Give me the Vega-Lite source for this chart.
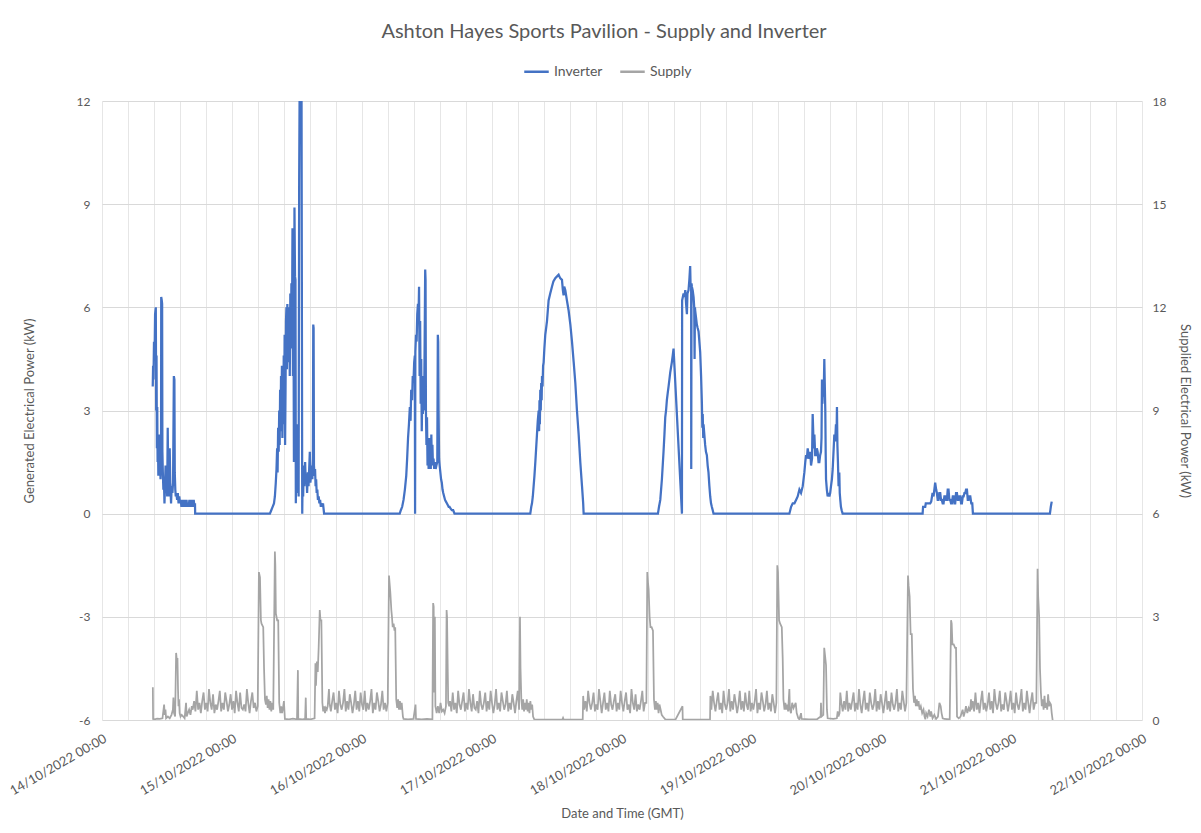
{
"$schema": "https://vega.github.io/schema/vega-lite/v6.json",
"width": 1040,
"height": 619,
"autosize": {"type": "none"},
"padding": {"left": 102, "top": 101, "right": 59, "bottom": 113},
"background": "white",
"title": {"text": "Ashton Hayes Sports Pavilion - Supply and Inverter", "font": "Lato", "fontSize": 20, "fontWeight": "normal", "color": "#595959", "anchor": "middle", "offset": 16, "dx": -18},
"config": {
  "view": {"stroke": null},
  "font": "Lato",
  "axis": {"labelFont": "Lato", "titleFont": "Lato", "labelColor": "#595959", "titleColor": "#595959", "labelFontSize": 12, "titleFontSize": 13, "titleFontWeight": "normal", "domain": false, "ticks": false}
},
"datasets": {
"inv": [
{"t":"2022-10-14T09:22:00Z","v":3.7},{"t":"2022-10-14T09:26:00Z","v":4.3},{"t":"2022-10-14T09:30:00Z","v":3.9},{"t":"2022-10-14T09:36:00Z","v":5.0},{"t":"2022-10-14T09:42:00Z","v":4.5},{"t":"2022-10-14T09:48:00Z","v":5.8},{"t":"2022-10-14T09:56:00Z","v":6.0},{"t":"2022-10-14T10:00:00Z","v":3.0},{"t":"2022-10-14T10:04:00Z","v":4.6},{"t":"2022-10-14T10:08:00Z","v":1.9},{"t":"2022-10-14T10:12:00Z","v":3.1},{"t":"2022-10-14T10:16:00Z","v":1.5},{"t":"2022-10-14T10:20:00Z","v":2.2},{"t":"2022-10-14T10:24:00Z","v":1.1},{"t":"2022-10-14T10:28:00Z","v":1.9},{"t":"2022-10-14T10:32:00Z","v":1.3},{"t":"2022-10-14T10:36:00Z","v":2.3},{"t":"2022-10-14T10:40:00Z","v":1.2},{"t":"2022-10-14T10:44:00Z","v":1.6},{"t":"2022-10-14T10:48:00Z","v":1.0},{"t":"2022-10-14T10:54:00Z","v":1.4},{"t":"2022-10-14T10:56:00Z","v":6.3},{"t":"2022-10-14T11:02:00Z","v":6.2},{"t":"2022-10-14T11:06:00Z","v":6.1},{"t":"2022-10-14T11:09:00Z","v":1.8},{"t":"2022-10-14T11:14:00Z","v":1.2},{"t":"2022-10-14T11:20:00Z","v":0.7},{"t":"2022-10-14T11:26:00Z","v":1.0},{"t":"2022-10-14T11:32:00Z","v":0.3},{"t":"2022-10-14T11:38:00Z","v":0.8},{"t":"2022-10-14T11:44:00Z","v":1.4},{"t":"2022-10-14T11:50:00Z","v":0.6},{"t":"2022-10-14T11:56:00Z","v":1.2},{"t":"2022-10-14T12:02:00Z","v":0.5},{"t":"2022-10-14T12:08:00Z","v":2.5},{"t":"2022-10-14T12:14:00Z","v":1.0},{"t":"2022-10-14T12:19:00Z","v":0.5},{"t":"2022-10-14T12:24:00Z","v":1.2},{"t":"2022-10-14T12:30:00Z","v":1.9},{"t":"2022-10-14T12:36:00Z","v":0.9},{"t":"2022-10-14T12:42:00Z","v":0.5},{"t":"2022-10-14T12:45:00Z","v":0.3},{"t":"2022-10-14T12:52:00Z","v":0.8},{"t":"2022-10-14T13:00:00Z","v":0.6},{"t":"2022-10-14T13:07:00Z","v":0.9},{"t":"2022-10-14T13:16:00Z","v":4.0},{"t":"2022-10-14T13:22:00Z","v":3.9},{"t":"2022-10-14T13:26:00Z","v":1.2},{"t":"2022-10-14T13:32:00Z","v":0.7},{"t":"2022-10-14T13:37:00Z","v":0.5},{"t":"2022-10-14T13:44:00Z","v":0.6},{"t":"2022-10-14T13:52:00Z","v":0.4},{"t":"2022-10-14T14:00:00Z","v":0.6},{"t":"2022-10-14T14:08:00Z","v":0.3},{"t":"2022-10-14T14:16:00Z","v":0.5},{"t":"2022-10-14T14:24:00Z","v":0.3},{"t":"2022-10-14T14:32:00Z","v":0.4},{"t":"2022-10-14T14:40:00Z","v":0.2},{"t":"2022-10-14T14:48:00Z","v":0.4},{"t":"2022-10-14T14:56:00Z","v":0.3},{"t":"2022-10-14T15:04:00Z","v":0.2},{"t":"2022-10-14T15:12:00Z","v":0.4},{"t":"2022-10-14T15:20:00Z","v":0.3},{"t":"2022-10-14T15:28:00Z","v":0.2},{"t":"2022-10-14T15:36:00Z","v":0.4},{"t":"2022-10-14T15:44:00Z","v":0.2},{"t":"2022-10-14T15:52:00Z","v":0.3},{"t":"2022-10-14T16:00:00Z","v":0.2},{"t":"2022-10-14T16:08:00Z","v":0.4},{"t":"2022-10-14T16:16:00Z","v":0.3},{"t":"2022-10-14T16:24:00Z","v":0.2},{"t":"2022-10-14T16:32:00Z","v":0.4},{"t":"2022-10-14T16:40:00Z","v":0.2},{"t":"2022-10-14T16:48:00Z","v":0.3},{"t":"2022-10-14T16:56:00Z","v":0.4},{"t":"2022-10-14T17:04:00Z","v":0.2},{"t":"2022-10-14T17:10:00Z","v":0.3},{"t":"2022-10-14T17:12:00Z","v":0},
{"t":"2022-10-15T07:00:00Z","v":0},{"t":"2022-10-15T07:15:00Z","v":0.1},{"t":"2022-10-15T07:30:00Z","v":0.2},{"t":"2022-10-15T07:45:00Z","v":0.3},{"t":"2022-10-15T07:55:00Z","v":0.5},{"t":"2022-10-15T08:05:00Z","v":0.9},{"t":"2022-10-15T08:13:00Z","v":1.3},{"t":"2022-10-15T08:20:00Z","v":1.9},{"t":"2022-10-15T08:25:00Z","v":1.2},{"t":"2022-10-15T08:31:00Z","v":2.5},{"t":"2022-10-15T08:37:00Z","v":1.8},{"t":"2022-10-15T08:43:00Z","v":3.0},{"t":"2022-10-15T08:48:00Z","v":2.0},{"t":"2022-10-15T08:53:00Z","v":3.6},{"t":"2022-10-15T08:58:00Z","v":2.4},{"t":"2022-10-15T09:03:00Z","v":4.0},{"t":"2022-10-15T09:08:00Z","v":2.8},{"t":"2022-10-15T09:13:00Z","v":4.3},{"t":"2022-10-15T09:18:00Z","v":2.2},{"t":"2022-10-15T09:23:00Z","v":3.8},{"t":"2022-10-15T09:28:00Z","v":2.6},{"t":"2022-10-15T09:33:00Z","v":4.6},{"t":"2022-10-15T09:38:00Z","v":3.1},{"t":"2022-10-15T09:43:00Z","v":5.2},{"t":"2022-10-15T09:48:00Z","v":2.0},{"t":"2022-10-15T09:53:00Z","v":3.6},{"t":"2022-10-15T09:58:00Z","v":5.6},{"t":"2022-10-15T10:03:00Z","v":6.0},{"t":"2022-10-15T10:08:00Z","v":4.2},{"t":"2022-10-15T10:13:00Z","v":6.1},{"t":"2022-10-15T10:18:00Z","v":4.6},{"t":"2022-10-15T10:22:00Z","v":6.0},{"t":"2022-10-15T10:28:00Z","v":4.4},{"t":"2022-10-15T10:34:00Z","v":5.8},{"t":"2022-10-15T10:40:00Z","v":4.0},{"t":"2022-10-15T10:46:00Z","v":6.4},{"t":"2022-10-15T10:52:00Z","v":4.8},{"t":"2022-10-15T10:58:00Z","v":6.7},{"t":"2022-10-15T11:04:00Z","v":5.0},{"t":"2022-10-15T11:10:00Z","v":8.3},{"t":"2022-10-15T11:15:00Z","v":4.0},{"t":"2022-10-15T11:20:00Z","v":7.0},{"t":"2022-10-15T11:26:00Z","v":1.5},{"t":"2022-10-15T11:32:00Z","v":8.9},{"t":"2022-10-15T11:38:00Z","v":6.9},{"t":"2022-10-15T11:43:00Z","v":6.8},{"t":"2022-10-15T11:47:00Z","v":0.3},{"t":"2022-10-15T11:52:00Z","v":2.4},{"t":"2022-10-15T11:57:00Z","v":0.6},{"t":"2022-10-15T12:02:00Z","v":2.6},{"t":"2022-10-15T12:07:00Z","v":0.8},{"t":"2022-10-15T12:12:00Z","v":1.8},{"t":"2022-10-15T12:18:00Z","v":0.5},{"t":"2022-10-15T12:24:00Z","v":9.7},{"t":"2022-10-15T12:30:00Z","v":12.8},{"t":"2022-10-15T12:40:00Z","v":13},{"t":"2022-10-15T12:50:00Z","v":12.6},{"t":"2022-10-15T12:58:00Z","v":0},{"t":"2022-10-15T13:03:00Z","v":1.2},{"t":"2022-10-15T13:08:00Z","v":0.5},{"t":"2022-10-15T13:15:00Z","v":1.4},{"t":"2022-10-15T13:22:00Z","v":0.8},{"t":"2022-10-15T13:30:00Z","v":1.5},{"t":"2022-10-15T13:37:00Z","v":0.9},{"t":"2022-10-15T13:45:00Z","v":1.1},{"t":"2022-10-15T13:52:00Z","v":0.6},{"t":"2022-10-15T14:00:00Z","v":1.2},{"t":"2022-10-15T14:08:00Z","v":0.8},{"t":"2022-10-15T14:15:00Z","v":1.3},{"t":"2022-10-15T14:22:00Z","v":1.8},{"t":"2022-10-15T14:28:00Z","v":0.9},{"t":"2022-10-15T14:35:00Z","v":1.1},{"t":"2022-10-15T14:42:00Z","v":1.4},{"t":"2022-10-15T14:50:00Z","v":1.0},{"t":"2022-10-15T14:56:00Z","v":1.6},{"t":"2022-10-15T15:00:00Z","v":5.5},{"t":"2022-10-15T15:04:00Z","v":5.4},{"t":"2022-10-15T15:08:00Z","v":1.4},{"t":"2022-10-15T15:14:00Z","v":1.1},{"t":"2022-10-15T15:20:00Z","v":1.3},{"t":"2022-10-15T15:26:00Z","v":0.8},{"t":"2022-10-15T15:32:00Z","v":1.0},{"t":"2022-10-15T15:38:00Z","v":0.6},{"t":"2022-10-15T15:45:00Z","v":0.7},{"t":"2022-10-15T15:52:00Z","v":0.4},{"t":"2022-10-15T16:00:00Z","v":0.5},{"t":"2022-10-15T16:08:00Z","v":0.3},{"t":"2022-10-15T16:16:00Z","v":0.4},{"t":"2022-10-15T16:24:00Z","v":0.2},{"t":"2022-10-15T16:32:00Z","v":0.3},{"t":"2022-10-15T16:40:00Z","v":0.2},{"t":"2022-10-15T16:48:00Z","v":0.3},{"t":"2022-10-15T16:56:00Z","v":0.1},{"t":"2022-10-15T17:00:00Z","v":0},
{"t":"2022-10-16T06:58:00Z","v":0},{"t":"2022-10-16T07:10:00Z","v":0.1},{"t":"2022-10-16T07:25:00Z","v":0.2},{"t":"2022-10-16T07:40:00Z","v":0.4},{"t":"2022-10-16T07:55:00Z","v":0.7},{"t":"2022-10-16T08:10:00Z","v":1.1},{"t":"2022-10-16T08:20:00Z","v":1.6},{"t":"2022-10-16T08:30:00Z","v":2.2},{"t":"2022-10-16T08:40:00Z","v":2.6},{"t":"2022-10-16T08:50:00Z","v":3.1},{"t":"2022-10-16T08:58:00Z","v":2.7},{"t":"2022-10-16T09:05:00Z","v":3.6},{"t":"2022-10-16T09:15:00Z","v":3.3},{"t":"2022-10-16T09:22:00Z","v":4.0},{"t":"2022-10-16T09:30:00Z","v":3.8},{"t":"2022-10-16T09:38:00Z","v":4.4},{"t":"2022-10-16T09:45:00Z","v":4.6},{"t":"2022-10-16T09:48:00Z","v":0},{"t":"2022-10-16T09:51:00Z","v":4.7},{"t":"2022-10-16T09:58:00Z","v":5.2},{"t":"2022-10-16T10:05:00Z","v":5.0},{"t":"2022-10-16T10:12:00Z","v":5.8},{"t":"2022-10-16T10:20:00Z","v":6.1},{"t":"2022-10-16T10:26:00Z","v":5.7},{"t":"2022-10-16T10:32:00Z","v":6.6},{"t":"2022-10-16T10:38:00Z","v":4.0},{"t":"2022-10-16T10:44:00Z","v":5.6},{"t":"2022-10-16T10:50:00Z","v":3.2},{"t":"2022-10-16T10:56:00Z","v":4.5},{"t":"2022-10-16T11:02:00Z","v":2.4},{"t":"2022-10-16T11:08:00Z","v":3.6},{"t":"2022-10-16T11:14:00Z","v":2.9},{"t":"2022-10-16T11:20:00Z","v":4.0},{"t":"2022-10-16T11:28:00Z","v":3.0},{"t":"2022-10-16T11:34:00Z","v":5.0},{"t":"2022-10-16T11:40:00Z","v":7.1},{"t":"2022-10-16T11:44:00Z","v":6.8},{"t":"2022-10-16T11:48:00Z","v":3.0},{"t":"2022-10-16T11:54:00Z","v":2.0},{"t":"2022-10-16T12:00:00Z","v":2.8},{"t":"2022-10-16T12:06:00Z","v":1.4},{"t":"2022-10-16T12:12:00Z","v":2.0},{"t":"2022-10-16T12:18:00Z","v":1.3},{"t":"2022-10-16T12:24:00Z","v":2.2},{"t":"2022-10-16T12:30:00Z","v":1.3},{"t":"2022-10-16T12:36:00Z","v":1.8},{"t":"2022-10-16T12:42:00Z","v":1.3},{"t":"2022-10-16T12:48:00Z","v":2.3},{"t":"2022-10-16T12:54:00Z","v":1.4},{"t":"2022-10-16T13:00:00Z","v":2.0},{"t":"2022-10-16T13:06:00Z","v":1.4},{"t":"2022-10-16T13:12:00Z","v":1.6},{"t":"2022-10-16T13:20:00Z","v":1.3},{"t":"2022-10-16T13:28:00Z","v":1.5},{"t":"2022-10-16T13:36:00Z","v":1.3},{"t":"2022-10-16T13:44:00Z","v":1.4},{"t":"2022-10-16T13:54:00Z","v":1.5},{"t":"2022-10-16T14:00:00Z","v":5.2},{"t":"2022-10-16T14:04:00Z","v":5.0},{"t":"2022-10-16T14:08:00Z","v":3.0},{"t":"2022-10-16T14:14:00Z","v":1.6},{"t":"2022-10-16T14:20:00Z","v":1.4},{"t":"2022-10-16T14:28:00Z","v":1.2},{"t":"2022-10-16T14:36:00Z","v":1.0},{"t":"2022-10-16T14:44:00Z","v":0.9},{"t":"2022-10-16T14:52:00Z","v":0.7},{"t":"2022-10-16T15:00:00Z","v":0.6},{"t":"2022-10-16T15:10:00Z","v":0.5},{"t":"2022-10-16T15:20:00Z","v":0.4},{"t":"2022-10-16T15:30:00Z","v":0.35},{"t":"2022-10-16T15:40:00Z","v":0.3},{"t":"2022-10-16T15:50:00Z","v":0.25},{"t":"2022-10-16T16:00:00Z","v":0.2},{"t":"2022-10-16T16:10:00Z","v":0.2},{"t":"2022-10-16T16:20:00Z","v":0.15},{"t":"2022-10-16T16:35:00Z","v":0.1},{"t":"2022-10-16T16:50:00Z","v":0.1},{"t":"2022-10-16T17:05:00Z","v":0},
{"t":"2022-10-17T07:04:00Z","v":0},{"t":"2022-10-17T07:15:00Z","v":0.2},{"t":"2022-10-17T07:23:00Z","v":0.3},{"t":"2022-10-17T07:32:00Z","v":0.5},{"t":"2022-10-17T07:41:00Z","v":0.8},{"t":"2022-10-17T07:50:00Z","v":1.1},{"t":"2022-10-17T08:00:00Z","v":1.5},{"t":"2022-10-17T08:09:00Z","v":1.9},{"t":"2022-10-17T08:18:00Z","v":2.3},{"t":"2022-10-17T08:27:00Z","v":2.7},{"t":"2022-10-17T08:37:00Z","v":3.0},{"t":"2022-10-17T08:42:00Z","v":2.4},{"t":"2022-10-17T08:46:00Z","v":3.3},{"t":"2022-10-17T08:50:00Z","v":2.6},{"t":"2022-10-17T08:55:00Z","v":3.6},{"t":"2022-10-17T09:00:00Z","v":3.0},{"t":"2022-10-17T09:05:00Z","v":3.8},{"t":"2022-10-17T09:10:00Z","v":3.3},{"t":"2022-10-17T09:14:00Z","v":4.0},{"t":"2022-10-17T09:20:00Z","v":3.7},{"t":"2022-10-17T09:26:00Z","v":4.3},{"t":"2022-10-17T09:32:00Z","v":4.4},{"t":"2022-10-17T09:40:00Z","v":4.8},{"t":"2022-10-17T09:50:00Z","v":5.2},{"t":"2022-10-17T10:00:00Z","v":5.4},{"t":"2022-10-17T10:09:00Z","v":5.6},{"t":"2022-10-17T10:18:00Z","v":5.9},{"t":"2022-10-17T10:27:00Z","v":6.2},{"t":"2022-10-17T10:45:00Z","v":6.4},{"t":"2022-10-17T11:04:00Z","v":6.6},{"t":"2022-10-17T11:20:00Z","v":6.75},{"t":"2022-10-17T11:41:00Z","v":6.85},{"t":"2022-10-17T12:00:00Z","v":6.9},{"t":"2022-10-17T12:18:00Z","v":6.95},{"t":"2022-10-17T12:35:00Z","v":6.85},{"t":"2022-10-17T12:55:00Z","v":6.8},{"t":"2022-10-17T13:05:00Z","v":6.5},{"t":"2022-10-17T13:13:00Z","v":6.35},{"t":"2022-10-17T13:20:00Z","v":6.6},{"t":"2022-10-17T13:32:00Z","v":6.5},{"t":"2022-10-17T13:50:00Z","v":6.2},{"t":"2022-10-17T14:09:00Z","v":5.9},{"t":"2022-10-17T14:28:00Z","v":5.5},{"t":"2022-10-17T14:46:00Z","v":5.0},{"t":"2022-10-17T15:05:00Z","v":4.4},{"t":"2022-10-17T15:23:00Z","v":3.8},{"t":"2022-10-17T15:41:00Z","v":3.0},{"t":"2022-10-17T16:00:00Z","v":2.3},{"t":"2022-10-17T16:18:00Z","v":1.5},{"t":"2022-10-17T16:37:00Z","v":0.8},{"t":"2022-10-17T16:50:00Z","v":0.3},{"t":"2022-10-17T16:55:00Z","v":0},
{"t":"2022-10-18T06:38:00Z","v":0},{"t":"2022-10-18T06:50:00Z","v":0.2},{"t":"2022-10-18T07:04:00Z","v":0.4},{"t":"2022-10-18T07:13:00Z","v":0.7},{"t":"2022-10-18T07:22:00Z","v":1.0},{"t":"2022-10-18T07:31:00Z","v":1.4},{"t":"2022-10-18T07:40:00Z","v":1.8},{"t":"2022-10-18T07:50:00Z","v":2.3},{"t":"2022-10-18T07:59:00Z","v":2.8},{"t":"2022-10-18T08:08:00Z","v":3.0},{"t":"2022-10-18T08:17:00Z","v":3.3},{"t":"2022-10-18T08:26:00Z","v":3.5},{"t":"2022-10-18T08:36:00Z","v":3.7},{"t":"2022-10-18T08:45:00Z","v":3.9},{"t":"2022-10-18T08:54:00Z","v":4.1},{"t":"2022-10-18T09:03:00Z","v":4.25},{"t":"2022-10-18T09:12:00Z","v":4.4},{"t":"2022-10-18T09:22:00Z","v":4.6},{"t":"2022-10-18T09:31:00Z","v":4.8},{"t":"2022-10-18T11:04:00Z","v":0},{"t":"2022-10-18T11:06:00Z","v":6.2},{"t":"2022-10-18T11:14:00Z","v":6.3},{"t":"2022-10-18T11:22:00Z","v":6.4},{"t":"2022-10-18T11:32:00Z","v":6.3},{"t":"2022-10-18T11:41:00Z","v":6.5},{"t":"2022-10-18T11:50:00Z","v":6.1},{"t":"2022-10-18T11:59:00Z","v":5.8},{"t":"2022-10-18T12:05:00Z","v":6.4},{"t":"2022-10-18T12:17:00Z","v":6.5},{"t":"2022-10-18T12:26:00Z","v":6.8},{"t":"2022-10-18T12:35:00Z","v":7.2},{"t":"2022-10-18T12:40:00Z","v":6.6},{"t":"2022-10-18T12:46:00Z","v":6.7},{"t":"2022-10-18T12:47:00Z","v":1.3},{"t":"2022-10-18T12:50:00Z","v":6.7},{"t":"2022-10-18T12:54:00Z","v":6.6},{"t":"2022-10-18T13:03:00Z","v":6.5},{"t":"2022-10-18T13:13:00Z","v":6.3},{"t":"2022-10-18T13:20:00Z","v":6.0},{"t":"2022-10-18T13:24:00Z","v":4.5},{"t":"2022-10-18T13:28:00Z","v":6.0},{"t":"2022-10-18T13:31:00Z","v":5.9},{"t":"2022-10-18T13:40:00Z","v":5.7},{"t":"2022-10-18T13:49:00Z","v":5.5},{"t":"2022-10-18T13:58:00Z","v":5.4},{"t":"2022-10-18T14:08:00Z","v":5.3},{"t":"2022-10-18T14:17:00Z","v":5.0},{"t":"2022-10-18T14:26:00Z","v":4.7},{"t":"2022-10-18T14:36:00Z","v":4.0},{"t":"2022-10-18T14:45:00Z","v":3.2},{"t":"2022-10-18T14:50:00Z","v":2.5},{"t":"2022-10-18T14:54:00Z","v":2.9},{"t":"2022-10-18T15:00:00Z","v":2.2},{"t":"2022-10-18T15:03:00Z","v":2.6},{"t":"2022-10-18T15:12:00Z","v":2.3},{"t":"2022-10-18T15:21:00Z","v":2.0},{"t":"2022-10-18T15:30:00Z","v":1.8},{"t":"2022-10-18T15:40:00Z","v":1.7},{"t":"2022-10-18T15:49:00Z","v":1.4},{"t":"2022-10-18T15:58:00Z","v":1.2},{"t":"2022-10-18T16:08:00Z","v":0.8},{"t":"2022-10-18T16:17:00Z","v":0.5},{"t":"2022-10-18T16:26:00Z","v":0.3},{"t":"2022-10-18T16:35:00Z","v":0.2},{"t":"2022-10-18T16:45:00Z","v":0.1},{"t":"2022-10-18T16:54:00Z","v":0},
{"t":"2022-10-19T06:54:00Z","v":0},{"t":"2022-10-19T07:13:00Z","v":0.2},{"t":"2022-10-19T07:31:00Z","v":0.3},{"t":"2022-10-19T07:50:00Z","v":0.3},{"t":"2022-10-19T08:08:00Z","v":0.4},{"t":"2022-10-19T08:26:00Z","v":0.5},{"t":"2022-10-19T08:45:00Z","v":0.7},{"t":"2022-10-19T09:03:00Z","v":0.6},{"t":"2022-10-19T09:22:00Z","v":0.8},{"t":"2022-10-19T09:40:00Z","v":1.2},{"t":"2022-10-19T09:50:00Z","v":1.5},{"t":"2022-10-19T09:59:00Z","v":1.7},{"t":"2022-10-19T10:08:00Z","v":1.6},{"t":"2022-10-19T10:17:00Z","v":1.9},{"t":"2022-10-19T10:26:00Z","v":1.7},{"t":"2022-10-19T10:35:00Z","v":1.6},{"t":"2022-10-19T10:45:00Z","v":1.8},{"t":"2022-10-19T10:54:00Z","v":1.4},{"t":"2022-10-19T11:05:00Z","v":1.6},{"t":"2022-10-19T11:12:00Z","v":2.9},{"t":"2022-10-19T11:18:00Z","v":2.4},{"t":"2022-10-19T11:23:00Z","v":1.9},{"t":"2022-10-19T11:31:00Z","v":2.3},{"t":"2022-10-19T11:40:00Z","v":1.7},{"t":"2022-10-19T11:49:00Z","v":1.7},{"t":"2022-10-19T11:58:00Z","v":1.9},{"t":"2022-10-19T12:07:00Z","v":1.8},{"t":"2022-10-19T12:17:00Z","v":1.5},{"t":"2022-10-19T12:26:00Z","v":1.5},{"t":"2022-10-19T12:35:00Z","v":1.7},{"t":"2022-10-19T12:44:00Z","v":1.8},{"t":"2022-10-19T12:50:00Z","v":2.2},{"t":"2022-10-19T12:55:00Z","v":3.9},{"t":"2022-10-19T13:00:00Z","v":3.2},{"t":"2022-10-19T13:06:00Z","v":3.7},{"t":"2022-10-19T13:14:00Z","v":3.4},{"t":"2022-10-19T13:21:00Z","v":4.5},{"t":"2022-10-19T13:26:00Z","v":3.8},{"t":"2022-10-19T13:32:00Z","v":3.0},{"t":"2022-10-19T13:36:00Z","v":1.8},{"t":"2022-10-19T13:40:00Z","v":1.0},{"t":"2022-10-19T13:49:00Z","v":0.7},{"t":"2022-10-19T13:58:00Z","v":0.5},{"t":"2022-10-19T14:08:00Z","v":0.6},{"t":"2022-10-19T14:17:00Z","v":0.5},{"t":"2022-10-19T14:26:00Z","v":0.6},{"t":"2022-10-19T14:35:00Z","v":0.8},{"t":"2022-10-19T14:45:00Z","v":1.0},{"t":"2022-10-19T14:54:00Z","v":1.3},{"t":"2022-10-19T15:03:00Z","v":1.8},{"t":"2022-10-19T15:12:00Z","v":2.3},{"t":"2022-10-19T15:21:00Z","v":2.1},{"t":"2022-10-19T15:30:00Z","v":2.6},{"t":"2022-10-19T15:36:00Z","v":2.2},{"t":"2022-10-19T15:41:00Z","v":3.1},{"t":"2022-10-19T15:46:00Z","v":2.0},{"t":"2022-10-19T15:52:00Z","v":1.5},{"t":"2022-10-19T15:59:00Z","v":0.8},{"t":"2022-10-19T16:07:00Z","v":1.2},{"t":"2022-10-19T16:12:00Z","v":0.6},{"t":"2022-10-19T16:18:00Z","v":0.4},{"t":"2022-10-19T16:25:00Z","v":0.2},{"t":"2022-10-19T16:33:00Z","v":0.1},{"t":"2022-10-19T16:44:00Z","v":0},
{"t":"2022-10-20T07:30:00Z","v":0},{"t":"2022-10-20T07:35:00Z","v":0.2},{"t":"2022-10-20T07:59:00Z","v":0.2},{"t":"2022-10-20T08:05:00Z","v":0.3},{"t":"2022-10-20T08:36:00Z","v":0.3},{"t":"2022-10-20T08:54:00Z","v":0.3},{"t":"2022-10-20T09:05:00Z","v":0.35},{"t":"2022-10-20T09:20:00Z","v":0.6},{"t":"2022-10-20T09:31:00Z","v":0.5},{"t":"2022-10-20T09:49:00Z","v":0.9},{"t":"2022-10-20T10:00:00Z","v":0.7},{"t":"2022-10-20T10:08:00Z","v":0.6},{"t":"2022-10-20T10:17:00Z","v":0.4},{"t":"2022-10-20T10:26:00Z","v":0.4},{"t":"2022-10-20T10:35:00Z","v":0.6},{"t":"2022-10-20T10:45:00Z","v":0.6},{"t":"2022-10-20T10:54:00Z","v":0.4},{"t":"2022-10-20T11:03:00Z","v":0.4},{"t":"2022-10-20T11:12:00Z","v":0.3},{"t":"2022-10-20T11:22:00Z","v":0.3},{"t":"2022-10-20T11:31:00Z","v":0.5},{"t":"2022-10-20T11:40:00Z","v":0.5},{"t":"2022-10-20T11:50:00Z","v":0.4},{"t":"2022-10-20T11:59:00Z","v":0.4},{"t":"2022-10-20T12:08:00Z","v":0.7},{"t":"2022-10-20T12:17:00Z","v":0.7},{"t":"2022-10-20T12:26:00Z","v":0.4},{"t":"2022-10-20T12:36:00Z","v":0.4},{"t":"2022-10-20T12:45:00Z","v":0.3},{"t":"2022-10-20T12:54:00Z","v":0.3},{"t":"2022-10-20T13:04:00Z","v":0.5},{"t":"2022-10-20T13:13:00Z","v":0.5},{"t":"2022-10-20T13:22:00Z","v":0.3},{"t":"2022-10-20T13:31:00Z","v":0.3},{"t":"2022-10-20T13:40:00Z","v":0.6},{"t":"2022-10-20T13:50:00Z","v":0.6},{"t":"2022-10-20T13:59:00Z","v":0.4},{"t":"2022-10-20T14:08:00Z","v":0.4},{"t":"2022-10-20T14:17:00Z","v":0.5},{"t":"2022-10-20T14:27:00Z","v":0.5},{"t":"2022-10-20T14:36:00Z","v":0.3},{"t":"2022-10-20T14:45:00Z","v":0.3},{"t":"2022-10-20T14:55:00Z","v":0.5},{"t":"2022-10-20T15:04:00Z","v":0.5},{"t":"2022-10-20T15:13:00Z","v":0.6},{"t":"2022-10-20T15:22:00Z","v":0.6},{"t":"2022-10-20T15:31:00Z","v":0.7},{"t":"2022-10-20T15:41:00Z","v":0.7},{"t":"2022-10-20T15:50:00Z","v":0.4},{"t":"2022-10-20T15:59:00Z","v":0.4},{"t":"2022-10-20T16:08:00Z","v":0.5},{"t":"2022-10-20T16:18:00Z","v":0.5},{"t":"2022-10-20T16:29:00Z","v":0.3},{"t":"2022-10-20T16:40:00Z","v":0.3},{"t":"2022-10-20T16:47:00Z","v":0},
{"t":"2022-10-21T07:00:00Z","v":0},{"t":"2022-10-21T07:10:00Z","v":0.2},{"t":"2022-10-21T07:20:00Z","v":0.35}
],
"sup": [
{"t":"2022-10-14T09:23:00Z","v":0.95},{"t":"2022-10-14T09:26:00Z","v":0.03},{"t":"2022-10-14T09:45:00Z","v":0.02},{"t":"2022-10-14T10:10:00Z","v":0.04},{"t":"2022-10-14T10:40:00Z","v":0.03},{"t":"2022-10-14T11:10:00Z","v":0.05},{"t":"2022-10-14T11:28:00Z","v":0.45},{"t":"2022-10-14T11:35:00Z","v":0.15},{"t":"2022-10-14T11:43:00Z","v":0.3},{"t":"2022-10-14T11:50:00Z","v":0.05},{"t":"2022-10-14T12:10:00Z","v":0.1},{"t":"2022-10-14T12:30:00Z","v":0.05},{"t":"2022-10-14T12:50:00Z","v":0.15},{"t":"2022-10-14T13:05:00Z","v":0.3},{"t":"2022-10-14T13:11:00Z","v":0.65},{"t":"2022-10-14T13:18:00Z","v":0.2},{"t":"2022-10-14T13:30:00Z","v":0.1},{"t":"2022-10-14T13:41:00Z","v":1.95},{"t":"2022-10-14T13:50:00Z","v":1.7},{"t":"2022-10-14T13:56:00Z","v":1.8},{"t":"2022-10-14T14:02:00Z","v":0.9},{"t":"2022-10-14T14:07:00Z","v":0.4},{"t":"2022-10-14T14:13:00Z","v":0.6},{"t":"2022-10-14T14:20:00Z","v":0.2},{"t":"2022-10-14T14:30:00Z","v":0.1},{"t":"2022-10-14T14:43:00Z","v":0.15},{"t":"2022-10-14T15:00:00Z","v":0.1},{"t":"2022-10-14T15:15:00Z","v":0.05},{"t":"2022-10-14T15:31:00Z","v":0.5},{"t":"2022-10-14T15:38:00Z","v":0.1},{"t":"2022-10-14T15:50:00Z","v":0.2},{"t":"2022-10-14T16:05:00Z","v":0.3},{"t":"2022-10-14T16:20:00Z","v":0.15},{"t":"2022-10-14T16:35:00Z","v":0.4},
{"t":"2022-10-14T16:45:00Z","v":0.3},{"t":"2022-10-14T17:00:00Z","v":0.55},{"t":"2022-10-14T17:15:00Z","v":0.25},{"t":"2022-10-14T17:30:00Z","v":0.85},{"t":"2022-10-14T17:45:00Z","v":0.3},{"t":"2022-10-14T18:00:00Z","v":0.5},{"t":"2022-10-14T18:15:00Z","v":0.2},{"t":"2022-10-14T18:30:00Z","v":0.55},{"t":"2022-10-14T18:45:00Z","v":0.8},{"t":"2022-10-14T19:00:00Z","v":0.3},{"t":"2022-10-14T19:15:00Z","v":0.5},{"t":"2022-10-14T19:30:00Z","v":0.25},{"t":"2022-10-14T19:45:00Z","v":0.9},{"t":"2022-10-14T20:00:00Z","v":0.5},{"t":"2022-10-14T20:15:00Z","v":0.3},{"t":"2022-10-14T20:30:00Z","v":0.75},{"t":"2022-10-14T20:45:00Z","v":0.2},{"t":"2022-10-14T21:00:00Z","v":0.45},{"t":"2022-10-14T21:15:00Z","v":0.3},{"t":"2022-10-14T21:30:00Z","v":0.55},{"t":"2022-10-14T21:45:00Z","v":0.85},{"t":"2022-10-14T22:00:00Z","v":0.25},{"t":"2022-10-14T22:15:00Z","v":0.5},{"t":"2022-10-14T22:30:00Z","v":0.3},{"t":"2022-10-14T22:45:00Z","v":0.8},{"t":"2022-10-14T23:00:00Z","v":0.55},{"t":"2022-10-14T23:15:00Z","v":0.25},{"t":"2022-10-14T23:30:00Z","v":0.45},{"t":"2022-10-14T23:45:00Z","v":0.75},{"t":"2022-10-15T00:00:00Z","v":0.3},{"t":"2022-10-15T00:15:00Z","v":0.55},{"t":"2022-10-15T00:30:00Z","v":0.2},{"t":"2022-10-15T00:45:00Z","v":0.85},{"t":"2022-10-15T01:00:00Z","v":0.5},{"t":"2022-10-15T01:15:00Z","v":0.25},{"t":"2022-10-15T01:30:00Z","v":0.8},{"t":"2022-10-15T01:45:00Z","v":0.35},{"t":"2022-10-15T02:00:00Z","v":0.3},{"t":"2022-10-15T02:15:00Z","v":0.45},{"t":"2022-10-15T02:30:00Z","v":0.25},{"t":"2022-10-15T02:45:00Z","v":0.9},{"t":"2022-10-15T03:00:00Z","v":0.5},{"t":"2022-10-15T03:15:00Z","v":0.2},{"t":"2022-10-15T03:30:00Z","v":0.55},{"t":"2022-10-15T03:45:00Z","v":0.8},{"t":"2022-10-15T04:00:00Z","v":0.35},{"t":"2022-10-15T04:15:00Z","v":0.5},{"t":"2022-10-15T04:30:00Z","v":0.25},
{"t":"2022-10-15T04:45:00Z","v":0.4},{"t":"2022-10-15T04:58:00Z","v":4.3},{"t":"2022-10-15T05:10:00Z","v":4.15},{"t":"2022-10-15T05:20:00Z","v":2.9},{"t":"2022-10-15T05:27:00Z","v":2.8},{"t":"2022-10-15T05:46:00Z","v":2.7},{"t":"2022-10-15T05:55:00Z","v":1.5},{"t":"2022-10-15T06:05:00Z","v":0.6},{"t":"2022-10-15T06:16:00Z","v":0.45},{"t":"2022-10-15T06:25:00Z","v":0.7},{"t":"2022-10-15T06:35:00Z","v":0.35},{"t":"2022-10-15T06:45:00Z","v":0.6},{"t":"2022-10-15T06:55:00Z","v":0.3},{"t":"2022-10-15T07:05:00Z","v":0.55},{"t":"2022-10-15T07:15:00Z","v":0.25},{"t":"2022-10-15T07:25:00Z","v":0.5},{"t":"2022-10-15T07:37:00Z","v":0.3},{"t":"2022-10-15T07:55:00Z","v":4.9},{"t":"2022-10-15T08:00:00Z","v":4.5},{"t":"2022-10-15T08:06:00Z","v":3.1},{"t":"2022-10-15T08:20:00Z","v":2.9},{"t":"2022-10-15T08:32:00Z","v":2.9},{"t":"2022-10-15T08:43:00Z","v":0.5},{"t":"2022-10-15T08:55:00Z","v":0.2},{"t":"2022-10-15T09:05:00Z","v":0.4},{"t":"2022-10-15T09:15:00Z","v":0.2},{"t":"2022-10-15T09:25:00Z","v":0.35},{"t":"2022-10-15T09:35:00Z","v":0.55},{"t":"2022-10-15T09:46:00Z","v":0.03},{"t":"2022-10-15T10:30:00Z","v":0.02},{"t":"2022-10-15T11:15:00Z","v":0.04},{"t":"2022-10-15T12:00:00Z","v":0.02},{"t":"2022-10-15T12:10:00Z","v":1.45},{"t":"2022-10-15T12:14:00Z","v":0.03},{"t":"2022-10-15T13:00:00Z","v":0.02},{"t":"2022-10-15T13:30:00Z","v":0.03},{"t":"2022-10-15T13:37:00Z","v":0.65},{"t":"2022-10-15T13:42:00Z","v":0.03},{"t":"2022-10-15T14:30:00Z","v":0.02},{"t":"2022-10-15T15:15:00Z","v":0.05},{"t":"2022-10-15T15:24:00Z","v":1.65},{"t":"2022-10-15T15:30:00Z","v":1.0},{"t":"2022-10-15T15:40:00Z","v":1.7},{"t":"2022-10-15T15:50:00Z","v":1.4},{"t":"2022-10-15T16:00:00Z","v":2.1},{"t":"2022-10-15T16:12:00Z","v":3.2},{"t":"2022-10-15T16:20:00Z","v":2.9},{"t":"2022-10-15T16:30:00Z","v":2.9},{"t":"2022-10-15T16:41:00Z","v":0.5},{"t":"2022-10-15T16:50:00Z","v":0.25},{"t":"2022-10-15T17:00:00Z","v":0.4},{"t":"2022-10-15T17:10:00Z","v":0.2},{"t":"2022-10-15T17:20:00Z","v":0.35},{"t":"2022-10-15T17:30:00Z","v":0.3},{"t":"2022-10-15T17:40:00Z","v":0.4},{"t":"2022-10-15T17:54:00Z","v":0.9},
{"t":"2022-10-15T18:00:00Z","v":0.5},{"t":"2022-10-15T18:15:00Z","v":0.25},{"t":"2022-10-15T18:30:00Z","v":0.55},{"t":"2022-10-15T18:45:00Z","v":0.8},{"t":"2022-10-15T19:00:00Z","v":0.3},{"t":"2022-10-15T19:15:00Z","v":0.5},{"t":"2022-10-15T19:30:00Z","v":0.2},{"t":"2022-10-15T19:45:00Z","v":0.85},{"t":"2022-10-15T20:00:00Z","v":0.45},{"t":"2022-10-15T20:15:00Z","v":0.3},{"t":"2022-10-15T20:30:00Z","v":0.5},{"t":"2022-10-15T20:45:00Z","v":0.9},{"t":"2022-10-15T21:00:00Z","v":0.25},{"t":"2022-10-15T21:15:00Z","v":0.55},{"t":"2022-10-15T21:30:00Z","v":0.3},{"t":"2022-10-15T21:45:00Z","v":0.75},{"t":"2022-10-15T22:00:00Z","v":0.5},{"t":"2022-10-15T22:15:00Z","v":0.2},{"t":"2022-10-15T22:30:00Z","v":0.45},{"t":"2022-10-15T22:45:00Z","v":0.85},{"t":"2022-10-15T23:00:00Z","v":0.3},{"t":"2022-10-15T23:15:00Z","v":0.55},{"t":"2022-10-15T23:30:00Z","v":0.25},{"t":"2022-10-15T23:45:00Z","v":0.8},{"t":"2022-10-16T00:00:00Z","v":0.45},{"t":"2022-10-16T00:15:00Z","v":0.3},{"t":"2022-10-16T00:30:00Z","v":0.85},{"t":"2022-10-16T00:45:00Z","v":0.25},{"t":"2022-10-16T01:00:00Z","v":0.5},{"t":"2022-10-16T01:15:00Z","v":0.3},{"t":"2022-10-16T01:30:00Z","v":0.55},{"t":"2022-10-16T01:45:00Z","v":0.9},{"t":"2022-10-16T02:00:00Z","v":0.2},{"t":"2022-10-16T02:15:00Z","v":0.5},{"t":"2022-10-16T02:30:00Z","v":0.3},{"t":"2022-10-16T02:45:00Z","v":0.8},{"t":"2022-10-16T03:00:00Z","v":0.55},{"t":"2022-10-16T03:15:00Z","v":0.25},{"t":"2022-10-16T03:30:00Z","v":0.45},{"t":"2022-10-16T03:45:00Z","v":0.85},{"t":"2022-10-16T04:00:00Z","v":0.3},{"t":"2022-10-16T04:15:00Z","v":0.5},{"t":"2022-10-16T04:30:00Z","v":0.25},
{"t":"2022-10-16T04:45:00Z","v":0.5},{"t":"2022-10-16T04:59:00Z","v":4.2},{"t":"2022-10-16T05:05:00Z","v":4.0},{"t":"2022-10-16T05:14:00Z","v":3.7},{"t":"2022-10-16T05:25:00Z","v":3.2},{"t":"2022-10-16T05:32:00Z","v":3.0},{"t":"2022-10-16T05:40:00Z","v":2.7},{"t":"2022-10-16T05:50:00Z","v":2.8},{"t":"2022-10-16T06:00:00Z","v":2.6},{"t":"2022-10-16T06:08:00Z","v":2.7},{"t":"2022-10-16T06:19:00Z","v":0.6},{"t":"2022-10-16T06:30:00Z","v":0.35},{"t":"2022-10-16T06:40:00Z","v":0.6},{"t":"2022-10-16T06:50:00Z","v":0.3},{"t":"2022-10-16T07:00:00Z","v":0.55},{"t":"2022-10-16T07:10:00Z","v":0.3},{"t":"2022-10-16T07:20:00Z","v":0.5},{"t":"2022-10-16T07:33:00Z","v":0.1},{"t":"2022-10-16T07:40:00Z","v":0.03},{"t":"2022-10-16T08:30:00Z","v":0.02},{"t":"2022-10-16T09:30:00Z","v":0.03},{"t":"2022-10-16T09:53:00Z","v":0.45},{"t":"2022-10-16T09:58:00Z","v":0.03},{"t":"2022-10-16T11:00:00Z","v":0.02},{"t":"2022-10-16T12:00:00Z","v":0.03},{"t":"2022-10-16T13:00:00Z","v":0.02},{"t":"2022-10-16T13:08:00Z","v":3.4},{"t":"2022-10-16T13:14:00Z","v":3.3},{"t":"2022-10-16T13:20:00Z","v":0.8},{"t":"2022-10-16T13:27:00Z","v":3.0},{"t":"2022-10-16T13:33:00Z","v":0.4},{"t":"2022-10-16T13:47:00Z","v":0.2},{"t":"2022-10-16T14:00:00Z","v":0.4},{"t":"2022-10-16T14:15:00Z","v":0.2},{"t":"2022-10-16T14:30:00Z","v":0.5},{"t":"2022-10-16T14:45:00Z","v":0.25},{"t":"2022-10-16T15:00:00Z","v":0.3},{"t":"2022-10-16T15:15:00Z","v":0.2},{"t":"2022-10-16T15:30:00Z","v":0.4},{"t":"2022-10-16T15:37:00Z","v":3.2},{"t":"2022-10-16T15:42:00Z","v":3.0},{"t":"2022-10-16T15:50:00Z","v":1.4},{"t":"2022-10-16T15:55:00Z","v":0.5},{"t":"2022-10-16T16:06:00Z","v":0.4},
{"t":"2022-10-16T16:15:00Z","v":0.55},{"t":"2022-10-16T16:30:00Z","v":0.25},{"t":"2022-10-16T16:45:00Z","v":0.8},{"t":"2022-10-16T17:00:00Z","v":0.3},{"t":"2022-10-16T17:15:00Z","v":0.5},{"t":"2022-10-16T17:30:00Z","v":0.2},{"t":"2022-10-16T17:45:00Z","v":0.85},{"t":"2022-10-16T18:00:00Z","v":0.45},{"t":"2022-10-16T18:15:00Z","v":0.3},{"t":"2022-10-16T18:30:00Z","v":0.55},{"t":"2022-10-16T18:45:00Z","v":0.8},{"t":"2022-10-16T19:00:00Z","v":0.25},{"t":"2022-10-16T19:15:00Z","v":0.5},{"t":"2022-10-16T19:30:00Z","v":0.3},{"t":"2022-10-16T19:45:00Z","v":0.9},{"t":"2022-10-16T20:00:00Z","v":0.5},{"t":"2022-10-16T20:15:00Z","v":0.25},{"t":"2022-10-16T20:30:00Z","v":0.75},{"t":"2022-10-16T20:45:00Z","v":0.35},{"t":"2022-10-16T21:00:00Z","v":0.3},{"t":"2022-10-16T21:15:00Z","v":0.55},{"t":"2022-10-16T21:30:00Z","v":0.2},{"t":"2022-10-16T21:45:00Z","v":0.85},{"t":"2022-10-16T22:00:00Z","v":0.45},{"t":"2022-10-16T22:15:00Z","v":0.3},{"t":"2022-10-16T22:30:00Z","v":0.5},{"t":"2022-10-16T22:45:00Z","v":0.8},{"t":"2022-10-16T23:00:00Z","v":0.25},{"t":"2022-10-16T23:15:00Z","v":0.55},{"t":"2022-10-16T23:30:00Z","v":0.3},{"t":"2022-10-16T23:45:00Z","v":0.85},{"t":"2022-10-17T00:00:00Z","v":0.5},{"t":"2022-10-17T00:15:00Z","v":0.2},{"t":"2022-10-17T00:30:00Z","v":0.45},{"t":"2022-10-17T00:45:00Z","v":0.9},{"t":"2022-10-17T01:00:00Z","v":0.3},{"t":"2022-10-17T01:15:00Z","v":0.5},{"t":"2022-10-17T01:30:00Z","v":0.25},{"t":"2022-10-17T01:45:00Z","v":0.8},{"t":"2022-10-17T02:00:00Z","v":0.55},{"t":"2022-10-17T02:15:00Z","v":0.3},{"t":"2022-10-17T02:30:00Z","v":0.45},{"t":"2022-10-17T02:45:00Z","v":0.85},{"t":"2022-10-17T03:00:00Z","v":0.25},{"t":"2022-10-17T03:15:00Z","v":0.5},{"t":"2022-10-17T03:30:00Z","v":0.3},{"t":"2022-10-17T03:45:00Z","v":0.75},{"t":"2022-10-17T04:00:00Z","v":0.5},{"t":"2022-10-17T04:15:00Z","v":0.2},{"t":"2022-10-17T04:30:00Z","v":0.55},{"t":"2022-10-17T04:45:00Z","v":0.85},{"t":"2022-10-17T05:00:00Z","v":0.3},
{"t":"2022-10-17T05:10:00Z","v":3.0},{"t":"2022-10-17T05:16:00Z","v":1.5},{"t":"2022-10-17T05:25:00Z","v":0.6},{"t":"2022-10-17T05:35:00Z","v":0.3},{"t":"2022-10-17T05:45:00Z","v":0.6},{"t":"2022-10-17T05:55:00Z","v":0.25},{"t":"2022-10-17T06:05:00Z","v":0.5},{"t":"2022-10-17T06:15:00Z","v":0.3},{"t":"2022-10-17T06:25:00Z","v":0.6},{"t":"2022-10-17T06:35:00Z","v":0.25},{"t":"2022-10-17T06:45:00Z","v":0.5},{"t":"2022-10-17T06:55:00Z","v":0.2},{"t":"2022-10-17T07:05:00Z","v":0.55},{"t":"2022-10-17T07:15:00Z","v":0.3},{"t":"2022-10-17T07:25:00Z","v":0.45},{"t":"2022-10-17T07:35:00Z","v":0.1},{"t":"2022-10-17T07:48:00Z","v":0.02},{"t":"2022-10-17T10:00:00Z","v":0.01},{"t":"2022-10-17T13:00:00Z","v":0.01},{"t":"2022-10-17T13:07:00Z","v":0.06},{"t":"2022-10-17T13:14:00Z","v":0.01},{"t":"2022-10-17T16:45:00Z","v":0.02},{"t":"2022-10-17T16:50:00Z","v":0.7},
{"t":"2022-10-17T17:00:00Z","v":0.3},{"t":"2022-10-17T17:15:00Z","v":0.55},{"t":"2022-10-17T17:30:00Z","v":0.25},{"t":"2022-10-17T17:45:00Z","v":0.85},{"t":"2022-10-17T18:00:00Z","v":0.5},{"t":"2022-10-17T18:15:00Z","v":0.3},{"t":"2022-10-17T18:30:00Z","v":0.5},{"t":"2022-10-17T18:45:00Z","v":0.8},{"t":"2022-10-17T19:00:00Z","v":0.25},{"t":"2022-10-17T19:15:00Z","v":0.45},{"t":"2022-10-17T19:30:00Z","v":0.3},{"t":"2022-10-17T19:45:00Z","v":0.9},{"t":"2022-10-17T20:00:00Z","v":0.55},{"t":"2022-10-17T20:15:00Z","v":0.2},{"t":"2022-10-17T20:30:00Z","v":0.5},{"t":"2022-10-17T20:45:00Z","v":0.8},{"t":"2022-10-17T21:00:00Z","v":0.3},{"t":"2022-10-17T21:15:00Z","v":0.5},{"t":"2022-10-17T21:30:00Z","v":0.25},{"t":"2022-10-17T21:45:00Z","v":0.85},{"t":"2022-10-17T22:00:00Z","v":0.45},{"t":"2022-10-17T22:15:00Z","v":0.3},{"t":"2022-10-17T22:30:00Z","v":0.55},{"t":"2022-10-17T22:45:00Z","v":0.75},{"t":"2022-10-17T23:00:00Z","v":0.25},{"t":"2022-10-17T23:15:00Z","v":0.5},{"t":"2022-10-17T23:30:00Z","v":0.3},{"t":"2022-10-17T23:45:00Z","v":0.85},{"t":"2022-10-18T00:00:00Z","v":0.5},{"t":"2022-10-18T00:15:00Z","v":0.25},{"t":"2022-10-18T00:30:00Z","v":0.55},{"t":"2022-10-18T00:45:00Z","v":0.8},{"t":"2022-10-18T01:00:00Z","v":0.3},{"t":"2022-10-18T01:15:00Z","v":0.45},{"t":"2022-10-18T01:30:00Z","v":0.2},{"t":"2022-10-18T01:45:00Z","v":0.9},{"t":"2022-10-18T02:00:00Z","v":0.5},{"t":"2022-10-18T02:15:00Z","v":0.3},{"t":"2022-10-18T02:30:00Z","v":0.75},{"t":"2022-10-18T02:45:00Z","v":0.25},{"t":"2022-10-18T03:00:00Z","v":0.45},{"t":"2022-10-18T03:15:00Z","v":0.3},{"t":"2022-10-18T03:30:00Z","v":0.55},{"t":"2022-10-18T03:45:00Z","v":0.85},{"t":"2022-10-18T04:00:00Z","v":0.25},{"t":"2022-10-18T04:15:00Z","v":0.5},
{"t":"2022-10-18T04:30:00Z","v":0.5},{"t":"2022-10-18T04:40:00Z","v":4.3},{"t":"2022-10-18T04:48:00Z","v":4.0},{"t":"2022-10-18T04:55:00Z","v":3.8},{"t":"2022-10-18T05:06:00Z","v":3.0},{"t":"2022-10-18T05:15:00Z","v":2.7},{"t":"2022-10-18T05:28:00Z","v":2.7},{"t":"2022-10-18T05:43:00Z","v":2.6},{"t":"2022-10-18T05:54:00Z","v":0.6},{"t":"2022-10-18T06:05:00Z","v":0.3},{"t":"2022-10-18T06:15:00Z","v":0.55},{"t":"2022-10-18T06:25:00Z","v":0.3},{"t":"2022-10-18T06:35:00Z","v":0.5},{"t":"2022-10-18T06:45:00Z","v":0.2},{"t":"2022-10-18T06:55:00Z","v":0.45},{"t":"2022-10-18T07:08:00Z","v":0.3},{"t":"2022-10-18T07:20:00Z","v":0.15},{"t":"2022-10-18T07:33:00Z","v":0.1},{"t":"2022-10-18T08:02:00Z","v":0.01},{"t":"2022-10-18T09:52:00Z","v":0.01},{"t":"2022-10-18T11:10:00Z","v":0.4},{"t":"2022-10-18T11:13:00Z","v":0.01},{"t":"2022-10-18T16:15:00Z","v":0.01},{"t":"2022-10-18T16:19:00Z","v":0.7},
{"t":"2022-10-18T16:30:00Z","v":0.3},{"t":"2022-10-18T16:45:00Z","v":0.85},{"t":"2022-10-18T17:00:00Z","v":0.5},{"t":"2022-10-18T17:15:00Z","v":0.25},{"t":"2022-10-18T17:30:00Z","v":0.55},{"t":"2022-10-18T17:45:00Z","v":0.8},{"t":"2022-10-18T18:00:00Z","v":0.3},{"t":"2022-10-18T18:15:00Z","v":0.5},{"t":"2022-10-18T18:30:00Z","v":0.2},{"t":"2022-10-18T18:45:00Z","v":0.85},{"t":"2022-10-18T19:00:00Z","v":0.45},{"t":"2022-10-18T19:15:00Z","v":0.3},{"t":"2022-10-18T19:30:00Z","v":0.5},{"t":"2022-10-18T19:45:00Z","v":0.9},{"t":"2022-10-18T20:00:00Z","v":0.25},{"t":"2022-10-18T20:15:00Z","v":0.55},{"t":"2022-10-18T20:30:00Z","v":0.3},{"t":"2022-10-18T20:45:00Z","v":0.75},{"t":"2022-10-18T21:00:00Z","v":0.5},{"t":"2022-10-18T21:15:00Z","v":0.2},{"t":"2022-10-18T21:30:00Z","v":0.45},{"t":"2022-10-18T21:45:00Z","v":0.85},{"t":"2022-10-18T22:00:00Z","v":0.3},{"t":"2022-10-18T22:15:00Z","v":0.55},{"t":"2022-10-18T22:30:00Z","v":0.25},{"t":"2022-10-18T22:45:00Z","v":0.8},{"t":"2022-10-18T23:00:00Z","v":0.45},{"t":"2022-10-18T23:15:00Z","v":0.3},{"t":"2022-10-18T23:30:00Z","v":0.85},{"t":"2022-10-18T23:45:00Z","v":0.25},{"t":"2022-10-19T00:00:00Z","v":0.5},{"t":"2022-10-19T00:15:00Z","v":0.3},{"t":"2022-10-19T00:30:00Z","v":0.55},{"t":"2022-10-19T00:45:00Z","v":0.9},{"t":"2022-10-19T01:00:00Z","v":0.2},{"t":"2022-10-19T01:15:00Z","v":0.5},{"t":"2022-10-19T01:30:00Z","v":0.3},{"t":"2022-10-19T01:45:00Z","v":0.8},{"t":"2022-10-19T02:00:00Z","v":0.55},{"t":"2022-10-19T02:15:00Z","v":0.25},{"t":"2022-10-19T02:30:00Z","v":0.45},{"t":"2022-10-19T02:45:00Z","v":0.85},{"t":"2022-10-19T03:00:00Z","v":0.3},{"t":"2022-10-19T03:15:00Z","v":0.5},{"t":"2022-10-19T03:30:00Z","v":0.25},{"t":"2022-10-19T03:45:00Z","v":0.75},{"t":"2022-10-19T04:00:00Z","v":0.5},{"t":"2022-10-19T04:15:00Z","v":0.2},
{"t":"2022-10-19T04:30:00Z","v":0.5},{"t":"2022-10-19T04:40:00Z","v":4.5},{"t":"2022-10-19T04:48:00Z","v":4.3},{"t":"2022-10-19T05:00:00Z","v":2.9},{"t":"2022-10-19T05:12:00Z","v":2.8},{"t":"2022-10-19T05:30:00Z","v":2.7},{"t":"2022-10-19T05:40:00Z","v":1.8},{"t":"2022-10-19T05:48:00Z","v":0.6},{"t":"2022-10-19T06:00:00Z","v":0.3},{"t":"2022-10-19T06:10:00Z","v":0.5},{"t":"2022-10-19T06:20:00Z","v":0.3},{"t":"2022-10-19T06:30:00Z","v":0.45},{"t":"2022-10-19T06:40:00Z","v":0.25},{"t":"2022-10-19T06:54:00Z","v":0.9},{"t":"2022-10-19T07:00:00Z","v":0.3},{"t":"2022-10-19T07:12:00Z","v":0.2},{"t":"2022-10-19T07:25:00Z","v":0.5},{"t":"2022-10-19T07:40:00Z","v":0.35},{"t":"2022-10-19T08:04:00Z","v":0.5},{"t":"2022-10-19T08:15:00Z","v":0.2},{"t":"2022-10-19T08:33:00Z","v":0.05},{"t":"2022-10-19T08:45:00Z","v":0.02},{"t":"2022-10-19T09:03:00Z","v":0.2},{"t":"2022-10-19T09:10:00Z","v":0.03},{"t":"2022-10-19T10:30:00Z","v":0.02},{"t":"2022-10-19T12:00:00Z","v":0.02},{"t":"2022-10-19T12:40:00Z","v":0.1},{"t":"2022-10-19T12:44:00Z","v":0.5},{"t":"2022-10-19T12:50:00Z","v":0.1},{"t":"2022-10-19T13:10:00Z","v":0.15},{"t":"2022-10-19T13:20:00Z","v":2.1},{"t":"2022-10-19T13:28:00Z","v":1.9},{"t":"2022-10-19T13:40:00Z","v":1.6},{"t":"2022-10-19T13:50:00Z","v":0.3},{"t":"2022-10-19T13:58:00Z","v":0.05},{"t":"2022-10-19T15:00:00Z","v":0.03},{"t":"2022-10-19T15:40:00Z","v":0.05},{"t":"2022-10-19T15:49:00Z","v":0.25},{"t":"2022-10-19T15:58:00Z","v":0.1},{"t":"2022-10-19T16:10:00Z","v":0.2},{"t":"2022-10-19T16:18:00Z","v":0.8},
{"t":"2022-10-19T16:30:00Z","v":0.5},{"t":"2022-10-19T16:45:00Z","v":0.25},{"t":"2022-10-19T17:00:00Z","v":0.55},{"t":"2022-10-19T17:15:00Z","v":0.3},{"t":"2022-10-19T17:30:00Z","v":0.85},{"t":"2022-10-19T17:45:00Z","v":0.25},{"t":"2022-10-19T18:00:00Z","v":0.5},{"t":"2022-10-19T18:15:00Z","v":0.3},{"t":"2022-10-19T18:30:00Z","v":0.55},{"t":"2022-10-19T18:45:00Z","v":0.8},{"t":"2022-10-19T19:00:00Z","v":0.25},{"t":"2022-10-19T19:15:00Z","v":0.5},{"t":"2022-10-19T19:30:00Z","v":0.3},{"t":"2022-10-19T19:45:00Z","v":0.9},{"t":"2022-10-19T20:00:00Z","v":0.45},{"t":"2022-10-19T20:15:00Z","v":0.2},{"t":"2022-10-19T20:30:00Z","v":0.55},{"t":"2022-10-19T20:45:00Z","v":0.85},{"t":"2022-10-19T21:00:00Z","v":0.3},{"t":"2022-10-19T21:15:00Z","v":0.5},{"t":"2022-10-19T21:30:00Z","v":0.25},{"t":"2022-10-19T21:45:00Z","v":0.8},{"t":"2022-10-19T22:00:00Z","v":0.5},{"t":"2022-10-19T22:15:00Z","v":0.3},{"t":"2022-10-19T22:30:00Z","v":0.45},{"t":"2022-10-19T22:45:00Z","v":0.9},{"t":"2022-10-19T23:00:00Z","v":0.25},{"t":"2022-10-19T23:15:00Z","v":0.55},{"t":"2022-10-19T23:30:00Z","v":0.3},{"t":"2022-10-19T23:45:00Z","v":0.75},{"t":"2022-10-20T00:00:00Z","v":0.5},{"t":"2022-10-20T00:15:00Z","v":0.2},{"t":"2022-10-20T00:30:00Z","v":0.5},{"t":"2022-10-20T00:45:00Z","v":0.85},{"t":"2022-10-20T01:00:00Z","v":0.3},{"t":"2022-10-20T01:15:00Z","v":0.55},{"t":"2022-10-20T01:30:00Z","v":0.25},{"t":"2022-10-20T01:45:00Z","v":0.8},{"t":"2022-10-20T02:00:00Z","v":0.45},{"t":"2022-10-20T02:15:00Z","v":0.3},{"t":"2022-10-20T02:30:00Z","v":0.5},{"t":"2022-10-20T02:45:00Z","v":0.9},{"t":"2022-10-20T03:00:00Z","v":0.25},{"t":"2022-10-20T03:15:00Z","v":0.5},{"t":"2022-10-20T03:30:00Z","v":0.3},{"t":"2022-10-20T03:45:00Z","v":0.85},{"t":"2022-10-20T04:00:00Z","v":0.55},{"t":"2022-10-20T04:15:00Z","v":0.25},
{"t":"2022-10-20T04:30:00Z","v":0.5},{"t":"2022-10-20T04:48:00Z","v":4.2},{"t":"2022-10-20T04:55:00Z","v":3.9},{"t":"2022-10-20T05:06:00Z","v":3.6},{"t":"2022-10-20T05:17:00Z","v":2.5},{"t":"2022-10-20T05:30:00Z","v":2.5},{"t":"2022-10-20T05:43:00Z","v":0.9},{"t":"2022-10-20T05:55:00Z","v":0.5},{"t":"2022-10-20T06:05:00Z","v":0.7},{"t":"2022-10-20T06:15:00Z","v":0.4},{"t":"2022-10-20T06:25:00Z","v":0.6},{"t":"2022-10-20T06:35:00Z","v":0.4},{"t":"2022-10-20T06:45:00Z","v":0.55},{"t":"2022-10-20T06:56:00Z","v":0.3},{"t":"2022-10-20T07:10:00Z","v":0.4},{"t":"2022-10-20T07:25:00Z","v":0.2},{"t":"2022-10-20T07:40:00Z","v":0.3},{"t":"2022-10-20T07:51:00Z","v":0.1},{"t":"2022-10-20T08:00:00Z","v":0.02},{"t":"2022-10-20T08:09:00Z","v":0.2},{"t":"2022-10-20T08:25:00Z","v":0.1},{"t":"2022-10-20T08:40:00Z","v":0.3},{"t":"2022-10-20T08:55:00Z","v":0.1},{"t":"2022-10-20T09:04:00Z","v":0.25},{"t":"2022-10-20T09:20:00Z","v":0.05},{"t":"2022-10-20T09:40:00Z","v":0.15},{"t":"2022-10-20T09:59:00Z","v":0.03},{"t":"2022-10-20T10:20:00Z","v":0.1},{"t":"2022-10-20T10:36:00Z","v":0.5},{"t":"2022-10-20T10:50:00Z","v":0.4},{"t":"2022-10-20T11:00:00Z","v":0.2},{"t":"2022-10-20T11:12:00Z","v":0.05},{"t":"2022-10-20T11:31:00Z","v":0.03},{"t":"2022-10-20T12:30:00Z","v":0.02},{"t":"2022-10-20T12:45:00Z","v":2.9},{"t":"2022-10-20T12:52:00Z","v":2.8},{"t":"2022-10-20T13:00:00Z","v":2.2},{"t":"2022-10-20T13:14:00Z","v":2.2},{"t":"2022-10-20T13:30:00Z","v":2.1},{"t":"2022-10-20T13:40:00Z","v":2.1},{"t":"2022-10-20T13:51:00Z","v":0.1},{"t":"2022-10-20T14:10:00Z","v":0.05},{"t":"2022-10-20T14:30:00Z","v":0.1},{"t":"2022-10-20T14:53:00Z","v":0.3},{"t":"2022-10-20T15:05:00Z","v":0.1},{"t":"2022-10-20T15:20:00Z","v":0.25},{"t":"2022-10-20T15:30:00Z","v":0.4},{"t":"2022-10-20T15:45:00Z","v":0.2},{"t":"2022-10-20T16:00:00Z","v":0.35},{"t":"2022-10-20T16:15:00Z","v":0.25},{"t":"2022-10-20T16:26:00Z","v":0.6},
{"t":"2022-10-20T16:30:00Z","v":0.3},{"t":"2022-10-20T16:45:00Z","v":0.55},{"t":"2022-10-20T17:00:00Z","v":0.25},{"t":"2022-10-20T17:15:00Z","v":0.8},{"t":"2022-10-20T17:30:00Z","v":0.3},{"t":"2022-10-20T17:45:00Z","v":0.5},{"t":"2022-10-20T18:00:00Z","v":0.2},{"t":"2022-10-20T18:15:00Z","v":0.55},{"t":"2022-10-20T18:30:00Z","v":0.85},{"t":"2022-10-20T18:45:00Z","v":0.3},{"t":"2022-10-20T19:00:00Z","v":0.5},{"t":"2022-10-20T19:15:00Z","v":0.25},{"t":"2022-10-20T19:30:00Z","v":0.45},{"t":"2022-10-20T19:45:00Z","v":0.8},{"t":"2022-10-20T20:00:00Z","v":0.3},{"t":"2022-10-20T20:15:00Z","v":0.55},{"t":"2022-10-20T20:30:00Z","v":0.2},{"t":"2022-10-20T20:45:00Z","v":0.9},{"t":"2022-10-20T21:00:00Z","v":0.5},{"t":"2022-10-20T21:15:00Z","v":0.3},{"t":"2022-10-20T21:30:00Z","v":0.5},{"t":"2022-10-20T21:45:00Z","v":0.85},{"t":"2022-10-20T22:00:00Z","v":0.25},{"t":"2022-10-20T22:15:00Z","v":0.45},{"t":"2022-10-20T22:30:00Z","v":0.3},{"t":"2022-10-20T22:45:00Z","v":0.8},{"t":"2022-10-20T23:00:00Z","v":0.55},{"t":"2022-10-20T23:15:00Z","v":0.25},{"t":"2022-10-20T23:30:00Z","v":0.5},{"t":"2022-10-20T23:45:00Z","v":0.85},{"t":"2022-10-21T00:00:00Z","v":0.3},{"t":"2022-10-21T00:15:00Z","v":0.5},{"t":"2022-10-21T00:30:00Z","v":0.2},{"t":"2022-10-21T00:45:00Z","v":0.8},{"t":"2022-10-21T01:00:00Z","v":0.45},{"t":"2022-10-21T01:15:00Z","v":0.3},{"t":"2022-10-21T01:30:00Z","v":0.55},{"t":"2022-10-21T01:45:00Z","v":0.9},{"t":"2022-10-21T02:00:00Z","v":0.25},{"t":"2022-10-21T02:15:00Z","v":0.5},{"t":"2022-10-21T02:30:00Z","v":0.3},{"t":"2022-10-21T02:45:00Z","v":0.85},{"t":"2022-10-21T03:00:00Z","v":0.5},{"t":"2022-10-21T03:15:00Z","v":0.2},{"t":"2022-10-21T03:30:00Z","v":0.55},{"t":"2022-10-21T03:45:00Z","v":0.8},{"t":"2022-10-21T04:00:00Z","v":0.3},{"t":"2022-10-21T04:15:00Z","v":0.5},
{"t":"2022-10-21T04:30:00Z","v":0.5},{"t":"2022-10-21T04:43:00Z","v":4.4},{"t":"2022-10-21T04:50:00Z","v":3.6},{"t":"2022-10-21T05:01:00Z","v":3.0},{"t":"2022-10-21T05:10:00Z","v":1.5},{"t":"2022-10-21T05:20:00Z","v":0.8},{"t":"2022-10-21T05:30:00Z","v":0.4},{"t":"2022-10-21T05:40:00Z","v":0.6},{"t":"2022-10-21T05:50:00Z","v":0.3},{"t":"2022-10-21T06:00:00Z","v":0.7},{"t":"2022-10-21T06:10:00Z","v":0.35},{"t":"2022-10-21T06:20:00Z","v":0.5},{"t":"2022-10-21T06:30:00Z","v":0.3},{"t":"2022-10-21T06:40:00Z","v":0.75},{"t":"2022-10-21T06:50:00Z","v":0.4},{"t":"2022-10-21T07:00:00Z","v":0.5},{"t":"2022-10-21T07:11:00Z","v":0.45},{"t":"2022-10-21T07:20:00Z","v":0.2},{"t":"2022-10-21T07:30:00Z","v":0.0}
]
},
"encoding": {
  "x": {
    "field": "t", "type": "temporal",
    "scale": {"type": "utc", "domain": [1665705600000, 1666396800000], "nice": false},
    "axis": {
      "title": "Date and Time (GMT)",
      "values": [1665705600000,1665722880000,1665740160000,1665757440000,1665774720000,1665792000000,1665809280000,1665826560000,1665843840000,1665861120000,1665878400000,1665895680000,1665912960000,1665930240000,1665947520000,1665964800000,1665982080000,1665999360000,1666016640000,1666033920000,1666051200000,1666068480000,1666085760000,1666103040000,1666120320000,1666137600000,1666154880000,1666172160000,1666189440000,1666206720000,1666224000000,1666241280000,1666258560000,1666275840000,1666293120000,1666310400000,1666327680000,1666344960000,1666362240000,1666379520000,1666396800000],
      "labelExpr": "utchours(datum.value) == 0 && utcminutes(datum.value) == 0 ? utcFormat(datum.value, '%d/%m/%Y %H:%M') : ''",
      "labelAngle": -30, "labelAlign": "right", "labelBaseline": "top", "labelPadding": 12, "labelOffset": 0,
      "labelOverlap": false, "labelFontSize": 13,
      "grid": true, "gridColor": "#e6e6e6", "gridWidth": 1,
      "titlePadding": 10
    }
  }
},
"layer": [
  {
    "data": {"name": "inv"},
    "mark": {"type": "line", "strokeWidth": 2.25, "clip": true, "interpolate": "linear"},
    "encoding": {
      "y": {"field": "v", "type": "quantitative", "scale": {"domain": [-6, 12], "nice": false, "zero": false},
        "axis": {"orient": "left", "title": "Generated Electrical Power (kW)", "values": [-6, -3, 0, 3, 6, 9, 12], "labelExpr": "datum.value < 0 ? '-' + abs(datum.value) : '' + datum.value", "grid": true, "gridColor": "#d9d9d9", "labelPadding": 12, "titlePadding": 40}},
      "color": {"datum": "Inverter", "type": "nominal",
        "scale": {"domain": ["Inverter", "Supply"], "range": ["#4472C4", "#A5A5A5"]},
        "legend": {"orient": "none", "legendX": 421, "legendY": -43, "direction": "horizontal", "title": null, "symbolType": "stroke", "symbolSize": 600, "symbolStrokeWidth": 2.5, "labelFontSize": 14, "labelColor": "#595959", "labelFont": "Lato", "columnPadding": 12, "labelOffset": 4}}
    }
  },
  {
    "data": {"name": "sup"},
    "mark": {"type": "line", "strokeWidth": 1.75, "clip": true, "interpolate": "linear"},
    "encoding": {
      "y": {"field": "v", "type": "quantitative", "scale": {"domain": [0, 18], "nice": false},
        "axis": {"orient": "right", "title": "Supplied Electrical Power (kW)", "values": [0, 3, 6, 9, 12, 15, 18], "grid": false, "labelPadding": 10, "titlePadding": 12}},
      "color": {"datum": "Supply", "type": "nominal"}
    }
  }
],
"resolve": {"scale": {"y": "independent"}, "axis": {"y": "independent"}}
}
